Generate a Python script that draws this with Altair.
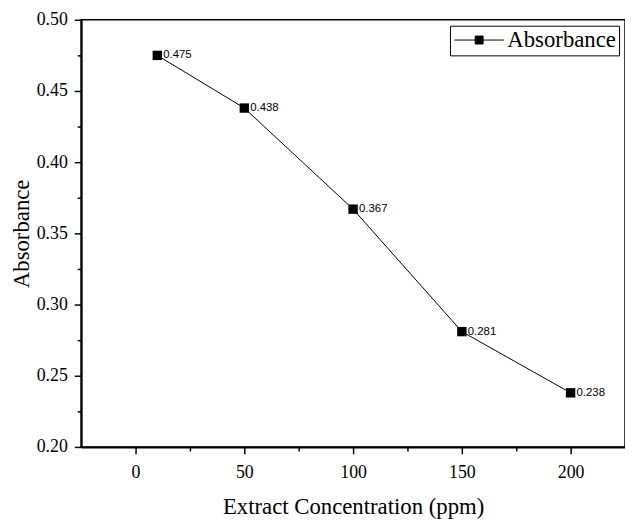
import altair as alt
import pandas as pd

conc = [10, 50, 100, 150, 200]
absorb = [0.475, 0.438, 0.367, 0.281, 0.238]
labels = ["0.475", "0.438", "0.367", "0.281", "0.238"]
series = ["Absorbance"] * 5

df = pd.DataFrame({"conc": conc, "abs": absorb, "label": labels, "series": series})

x_ticks = [0, 25, 50, 75, 100, 125, 150, 175, 200]
y_ticks = [0.20, 0.225, 0.25, 0.275, 0.30, 0.325, 0.35, 0.375, 0.40, 0.425, 0.45, 0.475, 0.50]

serif = "Liberation Serif"

axis_style = dict(
    grid=False, domainColor="black", domainWidth=2, tickColor="black", tickWidth=1.5,
    labelFont=serif, labelFontSize=18, labelColor="black",
    titleFont=serif, titleFontSize=23, titleColor="black", titleFontWeight="normal",
)

x = alt.X("conc:Q", scale=alt.Scale(domain=[-25, 225], nice=False, zero=False),
          axis=alt.Axis(title="Extract Concentration (ppm)", values=x_ticks,
                        labelExpr="datum.value % 50 === 0 ? datum.label : ''",
                        tickSize={"condition": {"test": "datum.value % 50 !== 0", "value": 4}, "value": 7},
                        labelPadding=10, titlePadding=14, **axis_style))
y = alt.Y("abs:Q", scale=alt.Scale(domain=[0.20, 0.50], nice=False, zero=False),
          axis=alt.Axis(title="Absorbance", values=y_ticks, format=".2f",
                        labelExpr="round(datum.value*1000) % 50 === 0 ? datum.label : ''",
                        tickSize={"condition": {"test": "round(datum.value*1000) % 50 !== 0", "value": 4}, "value": 7},
                        labelPadding=7, titlePadding=3, **axis_style))

color = alt.Color("series:N", scale=alt.Scale(range=["black"]),
                  legend=alt.Legend(title=None, orient="top-right", offset=6,
                                    symbolType="M-2.5,0H2.5M-0.4,-0.4H0.4V0.4H-0.4Z",
                                    symbolSize=400, symbolOffset=15, symbolFillColor="black",
                                    symbolStrokeColor="black", symbolStrokeWidth=1,
                                    labelFont=serif, labelFontSize=23, labelColor="black",
                                    strokeColor="black", padding=3, labelOffset=17))

base = alt.Chart(df)
line = base.mark_line(strokeWidth=1).encode(x=x, y=y, color=color)
pts = base.mark_point(shape="square", filled=True, size=90, opacity=1).encode(x=x, y=y, color=color)
txt = base.mark_text(align="left", baseline="middle", dx=6, font="Liberation Sans",
                     fontSize=11.5, color="black").encode(x=x, y=y, text="label:N")

chart = (line + pts + txt).properties(
    width=550, height=432,
    autosize=alt.AutoSizeParams(type="none"),
    padding={"left": 74, "top": 9, "right": 0, "bottom": 73},
).configure_view(stroke="black", strokeWidth=1.5)

chart.save("out.html", embed_options={"renderer": "svg", "actions": False})
